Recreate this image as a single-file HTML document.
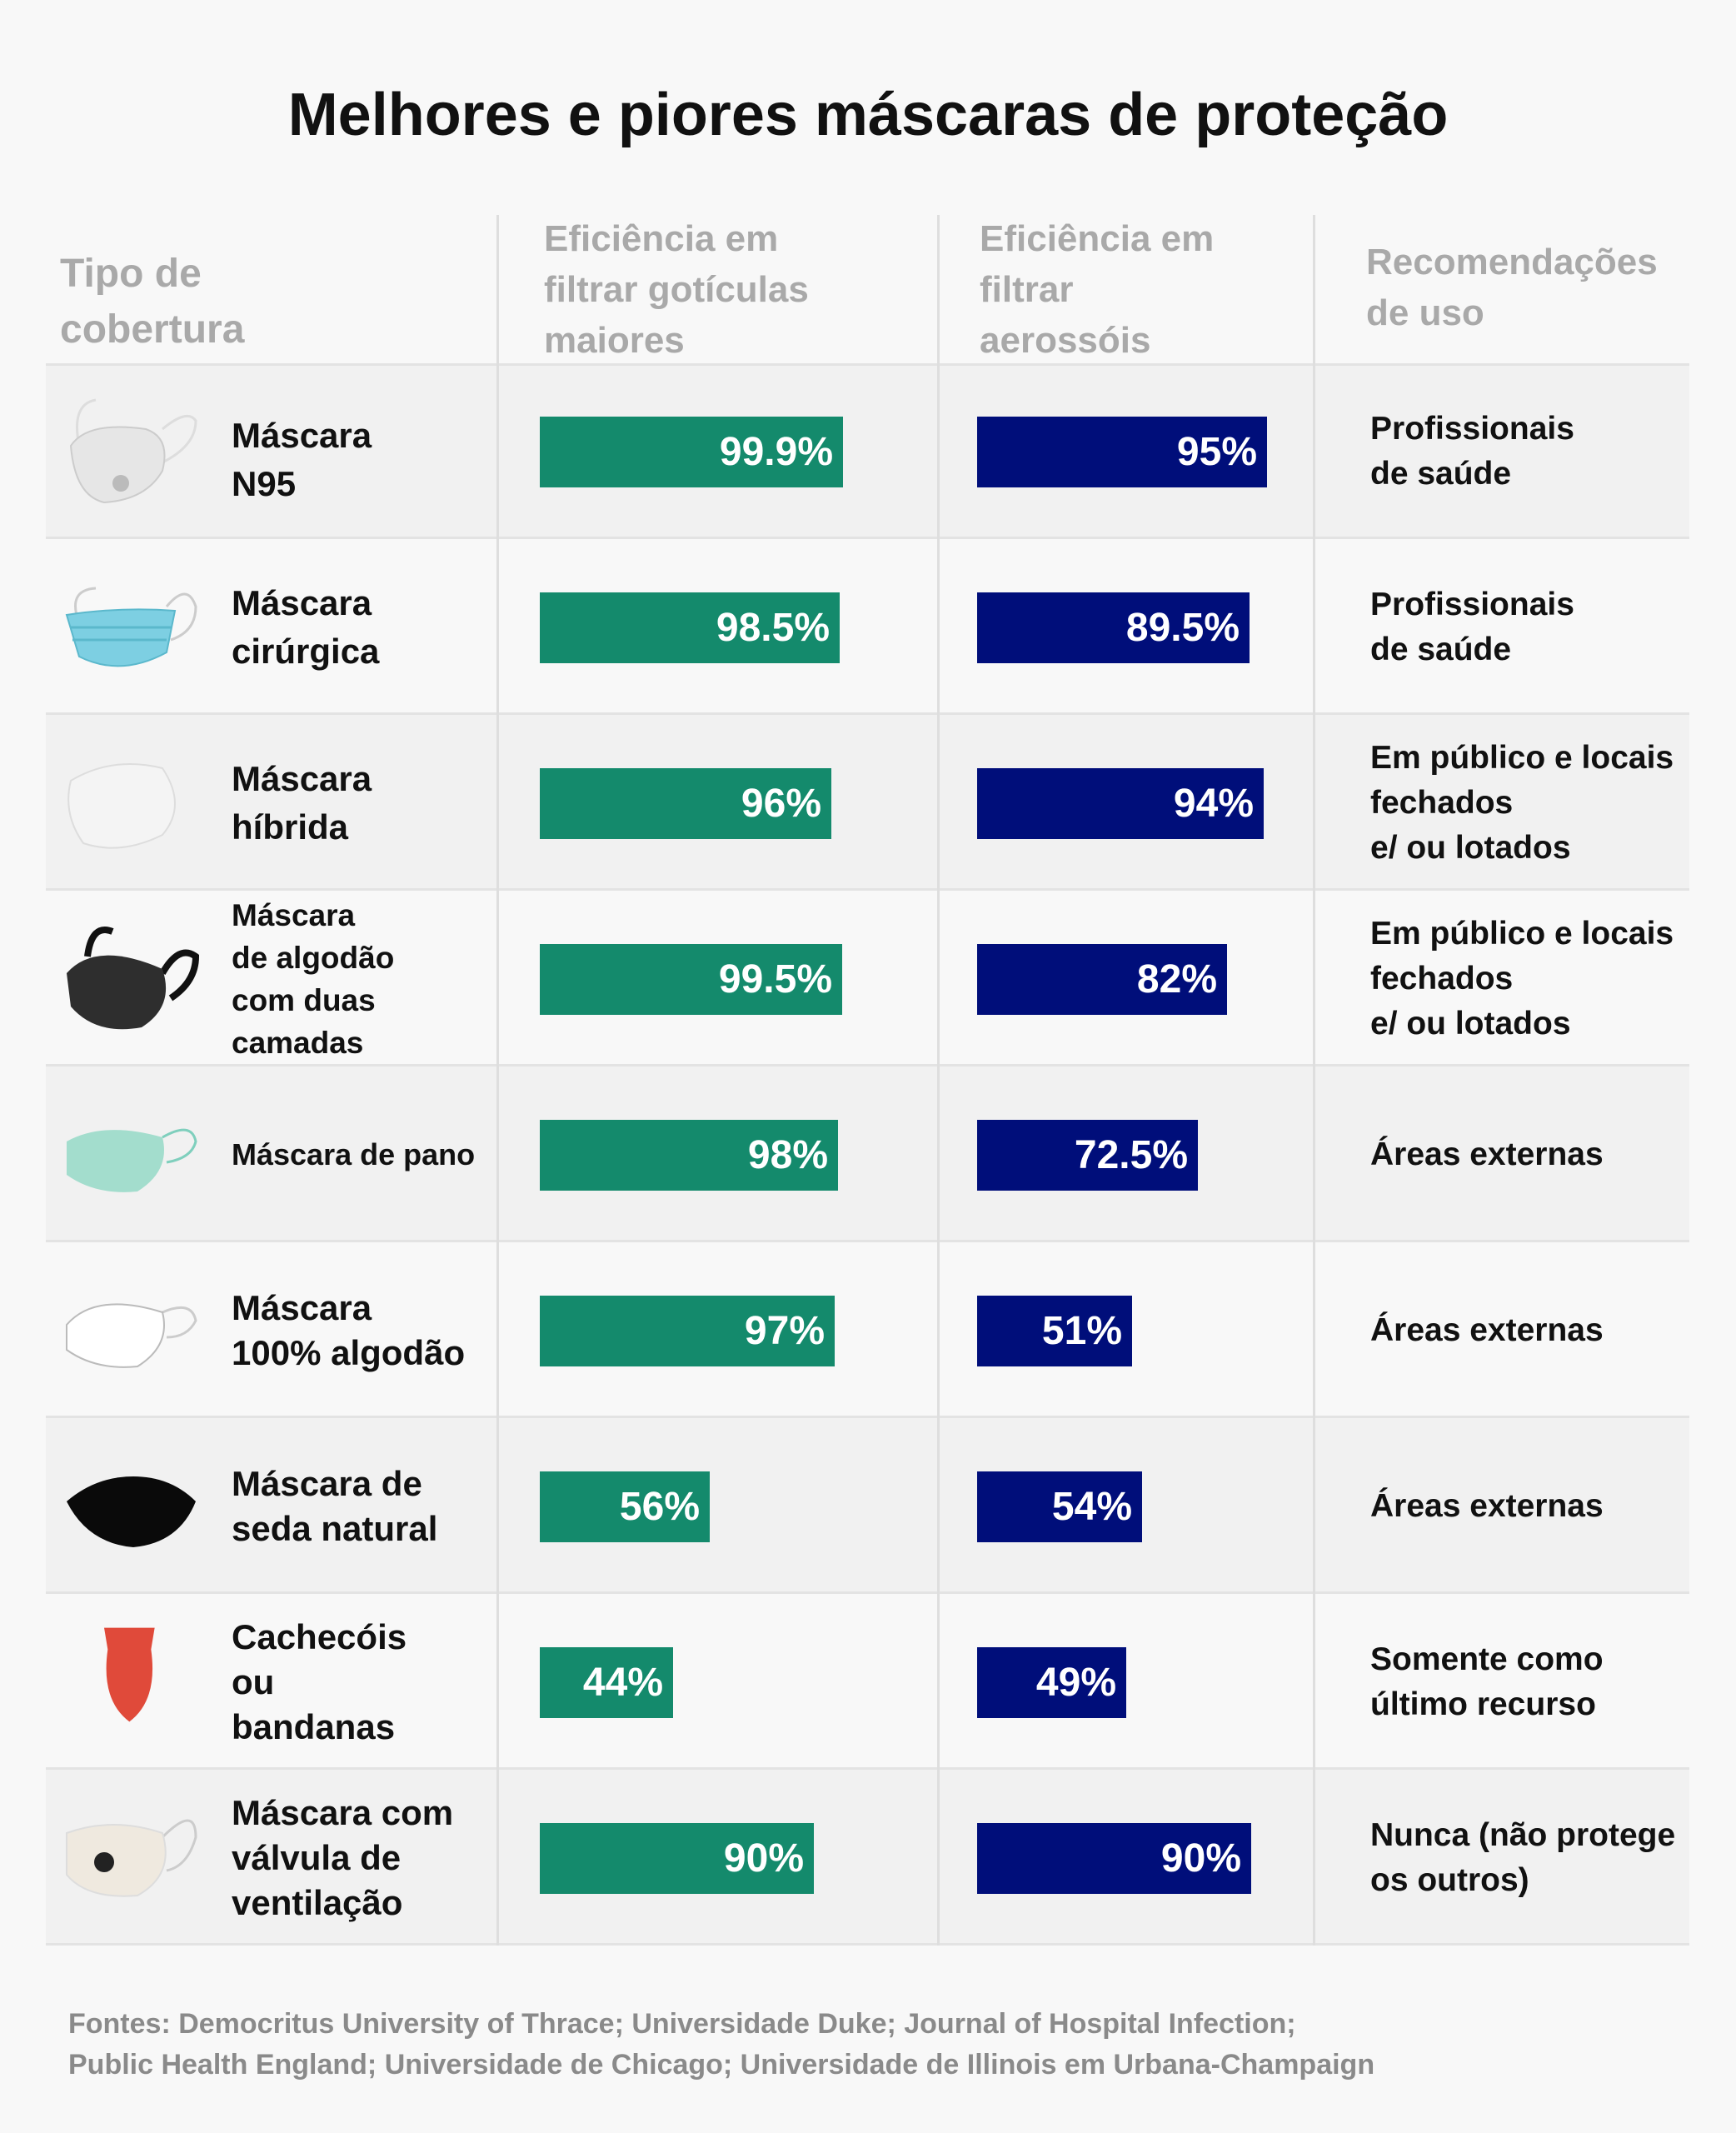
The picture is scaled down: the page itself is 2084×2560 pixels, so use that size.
<!DOCTYPE html>
<html><head><meta charset="utf-8"><style>
body{margin:0;width:2084px;height:2560px;background:#f8f8f8;font-family:"Liberation Sans","DejaVu Sans",sans-serif;position:relative;overflow:hidden}
.a{position:absolute}
.t{left:0;width:2084px;top:97px;text-align:center;font-weight:bold;font-size:72px;color:#111}
.h{color:#a9a9a9;font-weight:bold;font-size:44px;line-height:61px}
.row{position:absolute;left:55px;width:1973px;height:211px;border-bottom:3px solid #e3e3e3;box-sizing:border-box}
.g{background:#f1f1f1}
.vl{position:absolute;top:258px;width:3px;height:2077px;background:#dedede}
.bar{position:absolute;height:85px;color:#fff;font-weight:bold;font-size:48px;line-height:85px;text-align:right;padding-right:12px;box-sizing:border-box}
.gr{background:#148a6c;left:648px}
.bl{background:#000e7a;left:1173px}
.nm{position:absolute;left:278px;width:320px;height:211px;display:flex;align-items:center;font-weight:bold;color:#111;font-size:42px;line-height:58px}
.rc{position:absolute;left:1645px;width:400px;height:211px;display:flex;align-items:center;font-weight:bold;color:#111;font-size:39px;line-height:54px}
.ic{position:absolute;left:75px;width:165px;height:130px}
.f{left:82px;top:2405px;color:#8a8a8a;font-weight:bold;font-size:34px;line-height:49px}
</style></head><body>
<div class="a t">Melhores e piores máscaras de proteção</div>

<div class="a h" style="left:72px;top:295px;font-size:48px;line-height:67px">Tipo de<br>cobertura</div>
<div class="a h" style="left:653px;top:256px">Eficiência em<br>filtrar gotículas<br>maiores</div>
<div class="a h" style="left:1176px;top:256px">Eficiência em<br>filtrar<br>aerossóis</div>
<div class="a h" style="left:1640px;top:284px">Recomendações<br>de uso</div>

<div class="row g" style="top:436px;border-top:3px solid #e3e3e3"></div>
<div class="row" style="top:647px"></div>
<div class="row g" style="top:858px"></div>
<div class="row" style="top:1069px"></div>
<div class="row g" style="top:1280px"></div>
<div class="row" style="top:1491px"></div>
<div class="row g" style="top:1702px"></div>
<div class="row" style="top:1913px"></div>
<div class="row g" style="top:2124px"></div>

<div class="vl" style="left:596px"></div>
<div class="vl" style="left:1125px"></div>
<div class="vl" style="left:1576px"></div>

<!-- row 1 -->
<svg class="ic" style="top:475px" viewBox="0 0 165 130"><path d="M20 60 Q10 10 40 5 M120 40 Q150 15 160 30 Q160 60 120 80" fill="none" stroke="#ddd" stroke-width="3"/><path d="M10 60 Q30 30 100 40 Q130 50 120 90 Q100 125 50 128 Q15 120 10 60Z" fill="#e6e6e6" stroke="#ccc" stroke-width="2"/><circle cx="70" cy="105" r="10" fill="#bbb"/></svg>
<div class="nm" style="top:446px">Máscara<br>N95</div>
<div class="bar gr" style="top:500px;width:364px">99.9%</div>
<div class="bar bl" style="top:500px;width:348px">95%</div>
<div class="rc" style="top:436px;padding-bottom:10px">Profissionais<br>de saúde</div>

<!-- row 2 -->
<svg class="ic" style="top:688px" viewBox="0 0 165 130"><path d="M20 60 Q5 20 40 18 M125 40 Q150 10 160 40 Q160 70 130 80" fill="none" stroke="#ccc" stroke-width="3"/><path d="M5 50 Q70 40 135 45 L125 95 Q70 125 20 100Z" fill="#7dcfe2" stroke="#5bb8cc" stroke-width="2"/><path d="M10 65 H130 M12 80 H125" stroke="#5bb8cc" stroke-width="3"/></svg>
<div class="nm" style="top:647px">Máscara<br>cirúrgica</div>
<div class="bar gr" style="top:711px;width:360px">98.5%</div>
<div class="bar bl" style="top:711px;width:327px">89.5%</div>
<div class="rc" style="top:647px;padding-bottom:10px">Profissionais<br>de saúde</div>

<!-- row 3 -->
<svg class="ic" style="top:897px" viewBox="0 0 165 130"><path d="M10 40 Q60 10 120 25 Q150 70 120 105 Q70 130 25 115 Q0 80 10 40Z" fill="#f4f4f4" stroke="#ddd" stroke-width="2"/></svg>
<div class="nm" style="top:858px">Máscara<br>híbrida</div>
<div class="bar gr" style="top:922px;width:350px">96%</div>
<div class="bar bl" style="top:922px;width:344px">94%</div>
<div class="rc" style="top:858px">Em público e locais<br>fechados<br>e/ ou lotados</div>

<!-- row 4 -->
<svg class="ic" style="top:1108px" viewBox="0 0 165 130"><path d="M30 40 Q35 0 60 10 M120 60 Q140 25 160 40 Q160 70 130 90" fill="none" stroke="#111" stroke-width="8"/><path d="M5 60 Q40 20 120 55 Q135 100 95 125 Q40 135 10 100Z" fill="#2e2e2e"/></svg>
<div class="nm" style="top:1069px;font-size:37px;line-height:51px">Máscara<br>de algodão<br>com duas<br>camadas</div>
<div class="bar gr" style="top:1133px;width:363px">99.5%</div>
<div class="bar bl" style="top:1133px;width:300px">82%</div>
<div class="rc" style="top:1069px">Em público e locais<br>fechados<br>e/ ou lotados</div>

<!-- row 5 -->
<svg class="ic" style="top:1320px" viewBox="0 0 165 130"><path d="M120 45 Q155 25 160 50 Q155 70 125 75" fill="none" stroke="#7fcfbd" stroke-width="3"/><path d="M5 50 Q50 25 120 45 Q130 85 90 110 Q40 115 5 90Z" fill="#a3ddcd"/></svg>
<div class="nm" style="top:1280px;font-size:36px">Máscara de pano</div>
<div class="bar gr" style="top:1344px;width:358px">98%</div>
<div class="bar bl" style="top:1344px;width:265px">72.5%</div>
<div class="rc" style="top:1280px;padding-bottom:10px">Áreas externas</div>

<!-- row 6 -->
<svg class="ic" style="top:1530px" viewBox="0 0 165 130"><path d="M120 45 Q155 30 160 55 Q150 75 125 75" fill="none" stroke="#ccc" stroke-width="3"/><path d="M5 60 Q40 20 120 45 Q130 85 90 110 Q40 115 5 90Z" fill="#fff" stroke="#bbb" stroke-width="2"/></svg>
<div class="nm" style="top:1491px;line-height:54px">Máscara<br>100% algodão</div>
<div class="bar gr" style="top:1555px;width:354px">97%</div>
<div class="bar bl" style="top:1555px;width:186px">51%</div>
<div class="rc" style="top:1491px">Áreas externas</div>

<!-- row 7 -->
<svg class="ic" style="top:1742px" viewBox="0 0 165 130"><path d="M5 60 Q40 30 85 30 Q130 30 160 60 Q140 110 85 115 Q30 110 5 60Z" fill="#0a0a0a"/></svg>
<div class="nm" style="top:1702px;line-height:54px">Máscara de<br>seda natural</div>
<div class="bar gr" style="top:1766px;width:204px">56%</div>
<div class="bar bl" style="top:1766px;width:198px">54%</div>
<div class="rc" style="top:1702px">Áreas externas</div>

<!-- row 8 -->
<svg class="ic" style="top:1945px" viewBox="0 0 165 150"><path d="M45 10 L115 10 L110 40 Q120 110 80 140 Q40 110 50 40Z" fill="#e04a3a"/></svg>
<div class="nm" style="top:1913px;line-height:54px">Cachecóis<br>ou<br>bandanas</div>
<div class="bar gr" style="top:1977px;width:160px">44%</div>
<div class="bar bl" style="top:1977px;width:179px">49%</div>
<div class="rc" style="top:1913px">Somente como<br>último recurso</div>

<!-- row 9 -->
<svg class="ic" style="top:2160px" viewBox="0 0 165 130"><path d="M120 45 Q160 5 160 45 Q150 80 125 85" fill="none" stroke="#ccc" stroke-width="3"/><path d="M5 40 Q60 20 120 40 Q135 90 90 115 Q30 120 5 90Z" fill="#efe9df" stroke="#ddd" stroke-width="2"/><circle cx="50" cy="75" r="12" fill="#222"/></svg>
<div class="nm" style="top:2124px;line-height:54px">Máscara com<br>válvula de<br>ventilação</div>
<div class="bar gr" style="top:2188px;width:329px">90%</div>
<div class="bar bl" style="top:2188px;width:329px">90%</div>
<div class="rc" style="top:2124px">Nunca (não protege<br>os outros)</div>

<div class="a f">Fontes: Democritus University of Thrace; Universidade Duke; Journal of Hospital Infection;<br>Public Health England; Universidade de Chicago; Universidade de Illinois em Urbana-Champaign</div>
</body></html>
